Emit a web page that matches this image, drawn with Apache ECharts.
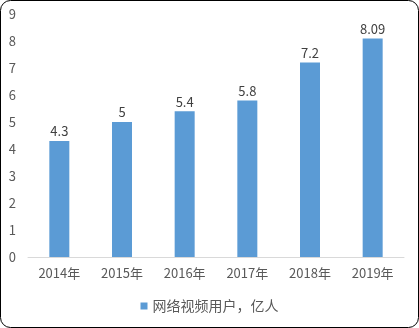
<!DOCTYPE html>
<html><head><meta charset="utf-8">
<script src="https://cdn.jsdelivr.net/npm/echarts@6/dist/echarts.min.js"></script>
<style>html,body{margin:0;padding:0;background:#fff}#c{width:419px;height:328px}</style>
</head><body><div id="c"></div>
<script>
const categories = ['2014年','2015年','2016年','2017年','2018年','2019年'];
const values = [4.3, 5, 5.4, 5.8, 7.2, 8.09];
const seriesName = '网络视频用户，亿人';
const font = '"Noto Sans CJK SC", "Noto Sans", sans-serif';
const chart = echarts.init(document.getElementById('c'), null, {renderer:'canvas'});
chart.setOption({
  animation:false,
  backgroundColor:'#fff',
  textStyle:{fontFamily:font},
  graphic:[{type:'rect',shape:{x:0.5,y:0.5,width:418,height:327,r:10},style:{fill:'none',stroke:'#000',lineWidth:1},silent:true,z:100}],
  grid:{left:28,right:15,top:14,bottom:71,containLabel:false},
  legend:{bottom:10,left:'center',itemWidth:7,itemHeight:7,itemGap:5,icon:'rect',
    textStyle:{color:'#595959',fontSize:14,fontFamily:font},data:[seriesName]},
  xAxis:{type:'category',data:categories,
    axisLine:{lineStyle:{color:'#d9d9d9',width:1}},axisTick:{show:false},
    axisLabel:{color:'#595959',fontSize:13,margin:10,fontFamily:font}},
  yAxis:{type:'value',min:0,max:9,interval:1,
    axisLine:{show:false},axisTick:{show:false},splitLine:{show:false},
    axisLabel:{color:'#595959',fontSize:13,margin:12,fontFamily:font}},
  series:[{name:seriesName,type:'bar',data:values,barWidth:20,
    itemStyle:{color:'#5B9BD5'},
    label:{show:true,position:'top',distance:3,color:'#404040',fontSize:13,fontFamily:font}}]
});
</script></body></html>
